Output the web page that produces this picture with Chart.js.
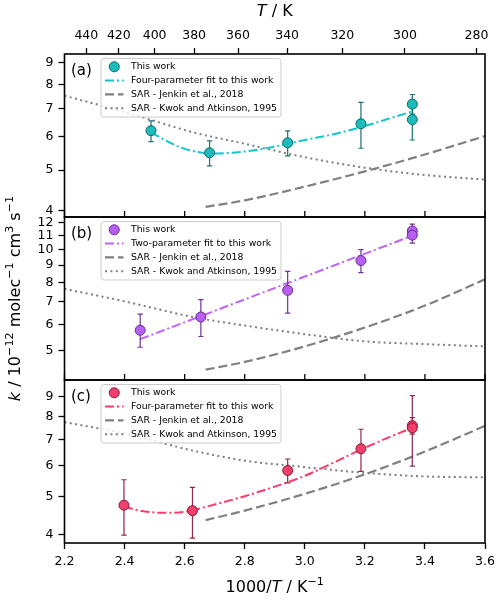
<!DOCTYPE html>
<html>
<head>
<meta charset="utf-8">
<script src="https://cdn.jsdelivr.net/npm/chart.js@4.4.1/dist/chart.umd.min.js"></script>
<style>
  html, body { margin: 0; padding: 0; background: #fff; }
</style>
</head>
<body>
<canvas id="chart" width="500" height="601"></canvas>
<script>
// ---- axes ----
const xTicks = [2.2, 2.4, 2.6, 2.8, 3.0, 3.2, 3.4, 3.6]
const topTicksK = [440, 420, 400, 380, 360, 340, 320, 300, 280]
const yTicksA = [4, 5, 6, 7, 8, 9]
const yTicksB = [5, 6, 7, 8, 9, 10, 11, 12]
const yTicksC = [4, 5, 6, 7, 8, 9]

// ---- panel (a) ----
const xA = [2.488, 2.683, 2.943, 3.187, 3.358, 3.358]
const kA = [6.21, 5.50, 5.81, 6.45, 7.18, 6.60]
const kA_lo = [5.85, 5.12, 5.41, 5.64, 6.80, 5.90]
const kA_hi = [6.55, 5.87, 6.20, 7.25, 7.57, 7.30]
const fitXA = [2.488, 2.55, 2.6, 2.7, 2.8, 2.9, 3.0, 3.1, 3.2, 3.3, 3.358]
const fitA = [6.15, 5.82, 5.62, 5.48, 5.54, 5.69, 5.90, 6.10, 6.37, 6.70, 6.90]

// ---- panel (b) ----
const xB = [2.452, 2.654, 2.943, 3.187, 3.358, 3.358]
const kB = [5.76, 6.31, 7.57, 9.28, 11.36, 11.04]
const kB_lo = [5.13, 5.52, 6.48, 8.54, 10.90, 10.45]
const kB_hi = [6.43, 7.10, 8.62, 10.0, 11.90, 11.50]
const fitXB = [2.452, 3.358]
const fitB = [5.42, 11.0]

// ---- panel (c) ----
const xC = [2.398, 2.626, 2.943, 3.187, 3.358, 3.358]
const kC = [4.75, 4.60, 5.83, 6.63, 7.60, 7.50]
const kC_lo = [3.98, 3.91, 5.42, 5.80, 7.23, 5.98]
const kC_hi = [5.52, 5.28, 6.24, 7.44, 7.97, 9.07]
const fitXC = [2.398, 2.45, 2.5, 2.55, 2.6, 2.7, 2.8, 2.9, 3.0, 3.1, 3.2, 3.3, 3.358]
const fitC = [4.71, 4.60, 4.55, 4.54, 4.57, 4.77, 5.01, 5.30, 5.65, 6.13, 6.67, 7.20, 7.50]

// ---- SAR estimates ----
const jenkinX = [2.67, 2.8, 3.0, 3.2, 3.4, 3.6]
const jenkinA = [4.09, 4.24, 4.57, 4.97, 5.45, 6.03]
const jenkinB = [4.40, 4.64, 5.16, 5.87, 6.82, 8.16]
const jenkinC = [4.35, 4.60, 5.08, 5.70, 6.52, 7.59]
const kwokX = [2.2, 2.4, 2.63, 2.8, 3.0, 3.2, 3.4, 3.6]
const kwokA = [7.52, 6.88, 6.15, 5.78, 5.37, 5.07, 4.87, 4.75]
const kwokB = [7.65, 7.02, 6.30, 5.95, 5.61, 5.34, 5.24, 5.16]
const kwokC = [7.76, 7.25, 6.55, 6.18, 5.95, 5.75, 5.63, 5.60]

const FONT = '"DejaVu Sans", sans-serif'
const tickFont = { family: FONT, size: 12.5 }
const xy = (xs, ys) => xs.map((x, i) => ({ x: x, y: ys[i] }))

const panels = [
  { id: 'ya', tag: '(a)', fill: '#1cbcbc', edge: '#0d6a6a', err: '#1d7070', line: '#10c6cf', fitLabel: 'Four-parameter fit to this work',
    x: xA, k: kA, lo: kA_lo, hi: kA_hi, fx: fitXA, fy: fitA, jen: jenkinA, kwok: kwokA, curve: true },
  { id: 'yb', tag: '(b)', fill: '#b65ff2', edge: '#6a2a8e', err: '#70338f', line: '#c060ff', fitLabel: 'Two-parameter fit to this work',
    x: xB, k: kB, lo: kB_lo, hi: kB_hi, fx: fitXB, fy: fitB, jen: jenkinB, kwok: kwokB, curve: false },
  { id: 'yc', tag: '(c)', fill: '#f23e6a', edge: '#8a1a3a', err: '#8e2a48', line: '#ff3a6c', fitLabel: 'Four-parameter fit to this work',
    x: xC, k: kC, lo: kC_lo, hi: kC_hi, fx: fitXC, fy: fitC, jen: jenkinC, kwok: kwokC, curve: true }
]

const datasets = []
panels.forEach(p => {
  datasets.push({
    label: 'This work', yAxisID: p.id, xAxisID: 'x', order: 0, kind: 'pts',
    data: xy(p.x, p.k), showLine: false, pointRadius: 5, pointBorderWidth: 1,
    pointBackgroundColor: p.fill, pointBorderColor: p.edge, errLo: p.lo, errHi: p.hi, errColor: p.err
  })
  datasets.push({
    label: p.fitLabel, yAxisID: p.id, xAxisID: 'x', order: 1, kind: 'fit',
    data: xy(p.fx, p.fy), borderColor: p.line, borderWidth: 2, borderDash: [9, 3, 2, 3],
    pointRadius: 0, cubicInterpolationMode: p.curve ? 'monotone' : 'default', tension: 0
  })
  datasets.push({
    label: 'SAR - Jenkin et al., 2018', yAxisID: p.id, xAxisID: 'x', order: 2, kind: 'dash',
    data: xy(jenkinX, p.jen), borderColor: '#808080', borderWidth: 2.2, borderDash: [9, 4],
    pointRadius: 0, cubicInterpolationMode: 'monotone'
  })
  datasets.push({
    label: 'SAR - Kwok and Atkinson, 1995', yAxisID: p.id, xAxisID: 'x', order: 3, kind: 'dot',
    data: xy(kwokX, p.kwok), borderColor: '#7f7f7f', borderWidth: 2, borderDash: [2, 3.4],
    pointRadius: 0, cubicInterpolationMode: 'monotone'
  })
})

function logAxis(min, max, ticks) {
  return {
    type: 'logarithmic', position: 'left', stack: 'k', stackWeight: 1, min: min, max: max,
    afterBuildTicks: s => { s.ticks = ticks.map(v => ({ value: v })) },
    afterFit: s => { s.width = 64.5 },
    grid: { drawOnChartArea: false, tickLength: 6, tickWidth: 1.3, tickColor: '#000' },
    border: { display: false },
    ticks: { callback: v => String(v), color: '#000', font: tickFont, padding: 5, autoSkip: false }
  }
}

// draw text with italics / superscripts
function drawRich(ctx, parts, size) {
  let w = 0
  const fontOf = p => (p.it ? 'italic ' : '') + (p.sup ? size * 0.7 : size) + 'px ' + FONT
  parts.forEach(p => { ctx.font = fontOf(p); p.w = ctx.measureText(p.t).width; w += p.w })
  let x = -w / 2
  parts.forEach(p => {
    ctx.font = fontOf(p)
    ctx.fillText(p.t, x, p.sup ? -size * 0.4 : 0)
    x += p.w
  })
}

const yTitle = [{ t: 'k', it: true }, { t: ' / 10' }, { t: '\u221212', sup: true }, { t: ' molec' }, { t: '\u22121', sup: true },
  { t: ' cm' }, { t: '3', sup: true }, { t: ' s' }, { t: '\u22121', sup: true }]
const xTitle = [{ t: '1000/' }, { t: 'T', it: true }, { t: ' / K' }, { t: '\u22121', sup: true }]
const topTitle = [{ t: 'T', it: true }, { t: ' / K' }]

const decor = {
  id: 'decor',
  beforeDatasetDraw(chart, args) {
    const ds = chart.data.datasets[args.index]
    if (!ds.errLo) return
    const ctx = chart.ctx, xs = chart.scales.x, ys = chart.scales[ds.yAxisID]
    ctx.save()
    ctx.strokeStyle = ds.errColor
    ctx.lineWidth = 1.2
    ds.data.forEach((p, i) => {
      const px = xs.getPixelForValue(p.x)
      const y1 = ys.getPixelForValue(ds.errLo[i]), y2 = ys.getPixelForValue(ds.errHi[i])
      ctx.beginPath()
      ctx.moveTo(px, y1); ctx.lineTo(px, y2)
      ctx.moveTo(px - 2.6, y1); ctx.lineTo(px + 2.6, y1)
      ctx.moveTo(px - 2.6, y2); ctx.lineTo(px + 2.6, y2)
      ctx.stroke()
    })
    ctx.restore()
  },
  afterDraw(chart) {
    const ctx = chart.ctx, a = chart.chartArea, xs = chart.scales.x
    ctx.save()
    panels.forEach((p, pi) => {
      const s = chart.scales[p.id]
      // interior x ticks at the bottom of upper panels
      if (pi < panels.length - 1) {
        ctx.strokeStyle = '#000'; ctx.lineWidth = 1.3
        xTicks.forEach(v => {
          const px = xs.getPixelForValue(v)
          ctx.beginPath(); ctx.moveTo(px, s.bottom); ctx.lineTo(px, s.bottom - 6); ctx.stroke()
        })
      }
      // spines
      ctx.strokeStyle = '#000'; ctx.lineWidth = 1.6
      ctx.strokeRect(a.left, s.top, a.right - a.left, s.bottom - s.top)
      // panel tag
      ctx.fillStyle = '#000'; ctx.font = '15px ' + FONT
      ctx.textBaseline = 'middle'; ctx.textAlign = 'left'
      ctx.fillText(p.tag, a.left + 6.5, s.top + 17)
      // legend
      const lx = a.left + 36.5, ly = s.top + 4.5, lw = 180, lh = 58.5
      ctx.beginPath()
      ctx.roundRect(lx, ly, lw, lh, 3)
      ctx.fillStyle = 'rgba(255,255,255,0.8)'; ctx.fill()
      ctx.strokeStyle = '#cccccc'; ctx.lineWidth = 1; ctx.stroke()
      const items = chart.data.datasets.filter(d => d.yAxisID === p.id)
      items.forEach((d, i) => {
        const cy = ly + 8.3 + i * 13.8
        const x0 = lx + 4, x1 = lx + 22.5
        if (d.kind === 'pts') {
          ctx.beginPath(); ctx.arc((x0 + x1) / 2, cy, 5, 0, Math.PI * 2)
          ctx.fillStyle = d.pointBackgroundColor; ctx.fill()
          ctx.strokeStyle = d.pointBorderColor; ctx.lineWidth = 1; ctx.stroke()
        } else {
          ctx.beginPath(); ctx.setLineDash(d.borderDash)
          ctx.strokeStyle = d.borderColor; ctx.lineWidth = d.borderWidth
          ctx.moveTo(x0, cy); ctx.lineTo(x1, cy); ctx.stroke(); ctx.setLineDash([])
        }
        ctx.fillStyle = '#000'; ctx.font = '9.3px ' + FONT
        ctx.fillText(d.label, lx + 30, cy)
      })
    })
    // axis titles
    ctx.fillStyle = '#000'; ctx.textBaseline = 'middle'; ctx.textAlign = 'left'
    const cx = (a.left + a.right) / 2
    ctx.save(); ctx.translate(cx, 12); drawRich(ctx, topTitle, 16); ctx.restore()
    ctx.save(); ctx.translate(cx, 588); drawRich(ctx, xTitle, 16); ctx.restore()
    ctx.save(); ctx.translate(16, (a.top + a.bottom) / 2); ctx.rotate(-Math.PI / 2); drawRich(ctx, yTitle, 16); ctx.restore()
    ctx.restore()
  }
}

new Chart(document.getElementById('chart'), {
  type: 'line',
  data: { datasets: datasets },
  options: {
    responsive: false,
    animation: false,
    events: [],
    layout: { padding: { left: 0, right: 15, top: 0, bottom: 0 } },
    plugins: { legend: { display: false }, tooltip: { enabled: false } },
    scales: {
      x: {
        type: 'linear', position: 'bottom', min: 2.2, max: 3.6,
        afterBuildTicks: s => { s.ticks = xTicks.map(v => ({ value: v })) },
        afterFit: s => { s.height = 58 },
        grid: { drawOnChartArea: false, tickLength: 6, tickWidth: 1.3, tickColor: '#000' },
        border: { display: false },
        ticks: { callback: v => v.toFixed(1), color: '#000', font: tickFont, padding: 5, maxRotation: 0, autoSkip: false }
      },
      x2: {
        type: 'linear', position: 'top', min: 2.2, max: 3.6,
        afterBuildTicks: s => { s.ticks = topTicksK.map(t => ({ value: 1000 / t })) },
        afterFit: s => { s.height = 54 },
        grid: { drawOnChartArea: false, tickLength: 6, tickWidth: 1.3, tickColor: '#000' },
        border: { display: false },
        ticks: { callback: v => String(Math.round(1000 / v)), color: '#000', font: tickFont, padding: 5, maxRotation: 0, autoSkip: false }
      },
      yc: logAxis(3.82, 9.95, yTicksC),
      yb: logAxis(4.13, 12.5, yTicksB),
      ya: logAxis(3.87, 9.45, yTicksA)
    }
  },
  plugins: [decor]
})
</script>
</body>
</html>
